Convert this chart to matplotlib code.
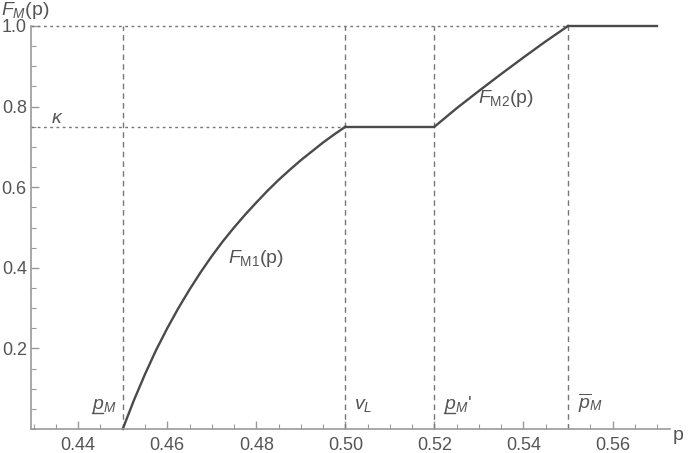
import matplotlib
matplotlib.use("Agg")
import matplotlib.pyplot as plt
from matplotlib.ticker import MultipleLocator, FixedLocator

plt.rcParams['font.family'] = ['Liberation Sans', 'DejaVu Sans']
plt.rcParams['mathtext.fontset'] = 'custom'
plt.rcParams['mathtext.rm'] = 'Liberation Sans'
plt.rcParams['mathtext.it'] = 'Liberation Sans:italic'

# Curve data
p_m1 = [0.4500, 0.4525, 0.4550, 0.4575, 0.4600, 0.4625, 0.4650, 0.4675, 0.4700, 0.4725,
        0.4750, 0.4775, 0.4800, 0.4825, 0.4850, 0.4875, 0.4900, 0.4925, 0.4950, 0.4975, 0.5000]
F_m1 = [0.000, 0.071, 0.136, 0.196, 0.250, 0.300, 0.346, 0.389, 0.429, 0.466,
        0.500, 0.532, 0.562, 0.591, 0.618, 0.643, 0.667, 0.689, 0.711, 0.731, 0.750]
p_flat1 = [0.50, 0.52]
F_flat1 = [0.75, 0.75]
p_m2 = [0.520, 0.525, 0.530, 0.535, 0.540, 0.545, 0.550]
F_m2 = [0.750, 0.796, 0.839, 0.881, 0.922, 0.962, 1.000]
p_flat2 = [0.55, 0.57]
F_flat2 = [1.0, 1.0]

x_marks = [0.45, 0.50, 0.52, 0.55]
kappa = 0.75
xticks = [0.44, 0.46, 0.48, 0.50, 0.52, 0.54, 0.56]
yticks = [0.2, 0.4, 0.6, 0.8, 1.0]

fig = plt.figure(figsize=(6.91, 4.53), dpi=100)
ax = fig.add_axes([31/691, 24/453, 639/691, 403/453])
ax.set_xlim(0.4294, 0.5729)
ax.set_ylim(0, 1.0)

axcol = '#9a9a9a'
txtcol = '#555555'
curvecol = '#4a4a4a'
gridcol = '#777777'

for s in ['top', 'right']:
    ax.spines[s].set_visible(False)
for s in ['left', 'bottom']:
    ax.spines[s].set_color(axcol)
    ax.spines[s].set_linewidth(1.2)

ax.xaxis.set_major_locator(FixedLocator(xticks))
ax.xaxis.set_minor_locator(MultipleLocator(0.005))
ax.yaxis.set_major_locator(FixedLocator(yticks))
ax.yaxis.set_minor_locator(MultipleLocator(0.05))
ax.set_xticklabels([f"{v:.2f}" for v in xticks])
ax.set_yticklabels([f"{v:.1f}" for v in yticks])
ax.tick_params(which='both', direction='in', color=axcol, labelcolor=txtcol, labelsize=13)
ax.tick_params(which='major', length=6, width=1.0)
ax.tick_params(which='minor', length=3.5, width=0.8)
ax.tick_params(axis='x', pad=6)
ax.tick_params(axis='y', pad=3)

# reference lines
for xm in x_marks:
    ax.plot([xm, xm], [0, 1.0], ls=(0, (4, 3)), color=gridcol, lw=1.0, clip_on=False)
ax.plot([0.4294, 0.55], [1.0, 1.0], ls=(0, (2, 2.5)), color=gridcol, lw=1.0, clip_on=False)
ax.plot([0.4294, 0.50], [kappa, kappa], ls=(0, (2, 2.5)), color=gridcol, lw=1.0)

# curve
for px, fy in [(p_m1, F_m1), (p_flat1, F_flat1), (p_m2, F_m2), (p_flat2, F_flat2)]:
    ax.plot(px, fy, color=curvecol, lw=1.7, clip_on=False, solid_joinstyle='round')

# annotations
fs = 14
base = 0.05
ax.text(0.4339, 0.759, r'$\kappa$', color=txtcol, fontsize=fs, va='baseline', ha='left')
ax.text(0.4431, base, r'$p_M$', color=txtcol, fontsize=fs, ha='left', va='baseline')
ax.plot([0.4431, 0.4455], [0.040, 0.040], color=txtcol, lw=1.0)
ax.text(0.5020, base, r'$v_L$', color=txtcol, fontsize=fs, ha='left', va='baseline')
ax.text(0.5222, base, r"$p_M$'", color=txtcol, fontsize=fs, ha='left', va='baseline')
ax.plot([0.5222, 0.5246], [0.040, 0.040], color=txtcol, lw=1.0)
ax.text(0.5522, base, r'$\overline{p}_M$', color=txtcol, fontsize=fs, ha='left', va='baseline')
ax.text(0.4737, 0.412, r'$F_{\mathrm{M1}}$(p)', color=txtcol, fontsize=fs, ha='left', va='baseline')
ax.text(0.5297, 0.81, r'$F_{\mathrm{M2}}$(p)', color=txtcol, fontsize=fs, ha='left', va='baseline')

fig.text(1/691, 1 - 15/453, r'$F_M$(p)', color=txtcol, fontsize=fs, ha='left', va='baseline')
fig.text(673/691, 1 - 440/453, 'p', color=txtcol, fontsize=fs, ha='left', va='baseline')

fig.savefig('out.png', dpi=100)
